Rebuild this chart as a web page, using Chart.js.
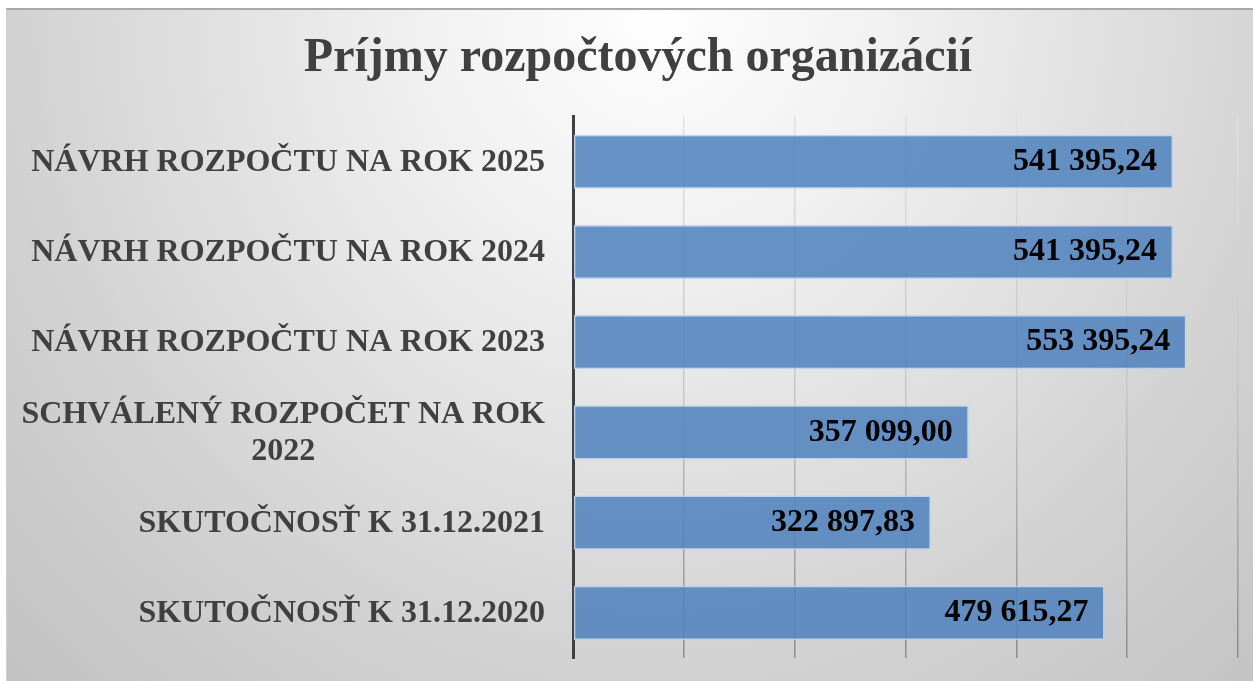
<!DOCTYPE html>
<html lang="sk">
<head>
<meta charset="utf-8">
<title>Príjmy rozpočtových organizácií</title>
<script src="https://cdn.jsdelivr.net/npm/chart.js@4.4.1/dist/chart.umd.min.js"></script>
<style>
  html, body { margin: 0; padding: 0; background: #fff; overflow: hidden; }
  .frame {
    position: absolute; left: 6px; top: 8px; width: 1247px; height: 673px;
    border-top: 2px solid #a9a9a9; border-left: 1px solid #d0d0d0;
    box-sizing: border-box;
    background: radial-gradient(ellipse farthest-corner at 52% 0%, #fefefe 0%, #f1f1f1 25%, #e3e3e3 45%, #d2d2d2 70%, #c2c2c2 100%);
  }
  .wrap { position: absolute; left: 0; top: 0; width: 1253px; height: 681px; }
</style>
</head>
<body>
<div class="frame"></div>
<div class="wrap"><canvas id="incomeChart"></canvas></div>

<script>
// ------------------------------------------------------------
// Data (top to bottom, as in the chart)
// ------------------------------------------------------------
const categories = [
  'NÁVRH ROZPOČTU NA ROK 2025',
  'NÁVRH ROZPOČTU NA ROK 2024',
  'NÁVRH ROZPOČTU NA ROK 2023',
  ['SCHVÁLENÝ ROZPOČET NA ROK', '2022'],
  'SKUTOČNOSŤ K 31.12.2021',
  'SKUTOČNOSŤ K 31.12.2020'
];
const values = [541395.24, 541395.24, 553395.24, 357099.00, 322897.83, 479615.27];
const xMin = 0;
const xMax = 600000;
const xStep = 100000;

const SERIF = '"Liberation Serif", "Times New Roman", serif';

// 541 395,24 style
function formatSk(v) {
  const parts = v.toFixed(2).split('.');
  return parts[0].replace(/\B(?=(\d{3})+(?!\d))/g, ' ') + ',' + parts[1];
}

// Value labels inside the bar end
const valueLabels = {
  id: 'valueLabels',
  afterDatasetsDraw(chart) {
    const ctx = chart.ctx;
    const meta = chart.getDatasetMeta(0);
    ctx.save();
    ctx.font = 'bold 32px ' + SERIF;
    ctx.fillStyle = '#000';
    ctx.textAlign = 'right';
    ctx.textBaseline = 'middle';
    meta.data.forEach((bar, i) => {
      ctx.fillText(formatSk(values[i]), bar.x - 16, bar.y);
    });
    ctx.restore();
  }
};

// Category labels: right aligned, wrapped labels centred on their longest line
const categoryLabels = {
  id: 'categoryLabels',
  afterDraw(chart) {
    const ctx = chart.ctx;
    const yScale = chart.scales.y;
    const rightX = chart.chartArea.left - 28;
    const lineH = 37;
    ctx.save();
    ctx.font = 'bold 32px ' + SERIF;
    ctx.fillStyle = '#404040';
    ctx.textBaseline = 'middle';
    categories.forEach((label, i) => {
      const y = yScale.getPixelForTick(i) + 1;
      if (Array.isArray(label)) {
        const maxW = Math.max(...label.map(l => ctx.measureText(l).width));
        const cx = rightX - maxW / 2;
        const startY = y - (label.length - 1) * lineH / 2;
        ctx.textAlign = 'center';
        label.forEach((l, j) => ctx.fillText(l, cx, startY + j * lineH));
      } else {
        ctx.textAlign = 'right';
        ctx.fillText(label, rightX, y);
      }
    });
    ctx.restore();
  }
};

function gridGradient(c) {
  const { ctx, chartArea } = c.chart;
  if (!chartArea) return '#c8c8c8';
  const g = ctx.createLinearGradient(0, chartArea.top, 0, chartArea.bottom);
  g.addColorStop(0, '#e0e0e0');
  g.addColorStop(0.5, '#c6c6c6');
  g.addColorStop(1, '#8c8c8c');
  return g;
}

new Chart(document.getElementById('incomeChart'), {
  type: 'bar',
  data: {
    labels: categories,
    datasets: [{
      label: 'Príjmy',
      data: values,
      backgroundColor: 'rgba(79, 129, 189, 0.86)',
      borderColor: 'rgba(190, 210, 235, 0.95)',
      borderWidth: 1.5,
      borderSkipped: false,
      barPercentage: 0.6,
      categoryPercentage: 1.0
    }]
  },
  options: {
    indexAxis: 'y',
    responsive: true,
    maintainAspectRatio: false,
    animation: false,
    layout: { padding: { left: 38, right: 15, top: 0, bottom: 23 } },
    plugins: {
      legend: { display: false },
      tooltip: { enabled: false },
      title: {
        display: true,
        text: 'Príjmy rozpočtových organizácií',
        color: '#404040',
        font: { family: SERIF, size: 48, weight: 'bold', lineHeight: 1.2 },
        padding: { top: 30, bottom: 29 }
      }
    },
    scales: {
      x: {
        min: xMin,
        max: xMax,
        ticks: { display: false, stepSize: xStep },
        grid: { color: gridGradient, lineWidth: 1.5, drawTicks: false },
        border: { display: false }
      },
      y: {
        ticks: { display: false },
        grid: { display: false, drawTicks: false },
        border: { display: true, color: '#404040', width: 3 },
        afterFit(scale) { scale.width = 535; }
      }
    }
  },
  plugins: [valueLabels, categoryLabels]
});
</script>
</body>
</html>
